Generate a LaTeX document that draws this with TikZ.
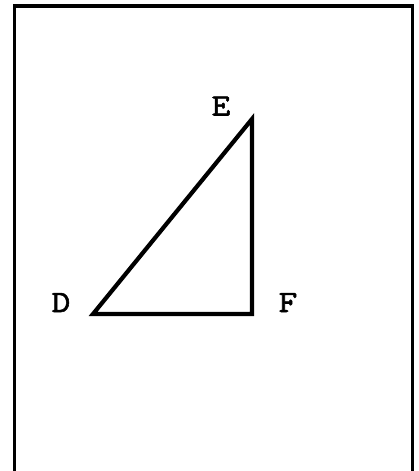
\documentclass[tikz,border=0pt]{standalone}
\usepackage{fontspec}
\newfontfamily\lblfont{lmmono10-regular.otf}[FakeBold=1.8,FakeStretch=1.15]
\begin{document}
\begin{tikzpicture}[x=1pt,y=-1pt,
  frameline/.style={line width=3.8pt},
  triline/.style={line width=4.2pt,line join=miter},
  lbl/.style={font=\lblfont\fontsize{31}{31}\selectfont,inner sep=0pt}]
\useasboundingbox (0,0) rectangle (419,471);
\fill[white] (0,0) rectangle (419,471);
\draw[frameline] (14.5,475) -- (14.5,6) -- (412.5,6) -- (412.5,475);
\coordinate (D) at (93,314);
\coordinate (E) at (252,119);
\coordinate (F) at (252,314);
\draw[triline] (D) -- (E) -- (F) -- cycle;
\node[lbl,anchor=base] (lD) at (61,312) {D};
\node[lbl,anchor=base] (lE) at (221,115.5) {E};
\node[lbl,anchor=base] (lF) at (288,312) {F};
\end{tikzpicture}
\end{document}
